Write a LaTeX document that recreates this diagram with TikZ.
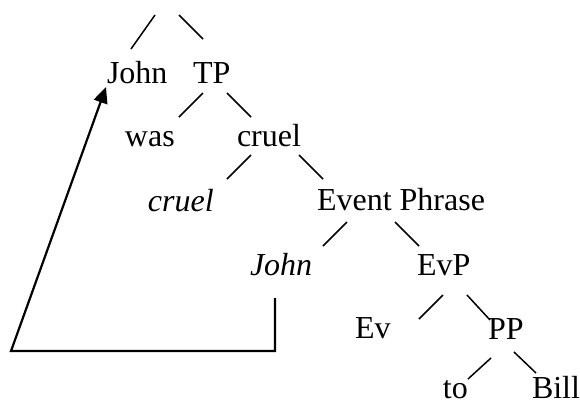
\documentclass[tikz,border=0pt]{standalone}
\usepackage{fontspec}
\setmainfont{Liberation Serif}
\usetikzlibrary{arrows.meta}
\begin{document}
\begin{tikzpicture}[x=0.5pt,y=-0.5pt,
  lbl/.style={anchor=base west,inner sep=0pt,outer sep=0pt,
              font=\fontsize{16}{19}\selectfont},
  branch/.style={line width=0.75pt},
  move/.style={line width=1.1pt,line join=miter},
  movetip/.style={-{Triangle[length=8pt,width=7pt]}}]
\useasboundingbox (0,0) rectangle (580,403);

% words of the tree
\node[lbl] (john)  at (107,83)  {John};
\node[lbl] (tp)    at (193,83)  {TP};
\node[lbl] (was)   at (125,146) {was};
\node[lbl] (cruel) at (237,146) {cruel};
\node[lbl] (cruelT) at (148,211) {\itshape cruel};
\node[lbl] (evph)  at (317,210) {Event Phrase};
\node[lbl] (johnT) at (250,275) {\itshape John};
\node[lbl] (evp)   at (417,275) {EvP};
\node[lbl] (ev)    at (355,338) {Ev};
\node[lbl] (pp)    at (488,339) {PP};
\node[lbl] (to)    at (443,398) {to};
\node[lbl] (bill)  at (532,398) {Bill};

% branch end points
\coordinate (r1a) at (155,15);  \coordinate (r1b) at (131,49);
\coordinate (r2a) at (179,15);  \coordinate (r2b) at (203,39);
\coordinate (t1a) at (203,93);  \coordinate (t1b) at (179,117);
\coordinate (t2a) at (227,93);  \coordinate (t2b) at (251,117);
\coordinate (c1a) at (251,155); \coordinate (c1b) at (227,179);
\coordinate (c2a) at (299,155); \coordinate (c2b) at (323,179);
\coordinate (e1a) at (347,222); \coordinate (e1b) at (323,246);
\coordinate (e2a) at (395,222); \coordinate (e2b) at (419,246);
\coordinate (v1a) at (443,295); \coordinate (v1b) at (419,319);
\coordinate (v2a) at (467,295); \coordinate (v2b) at (490,320);
\coordinate (p1a) at (491,358); \coordinate (p1b) at (468,379);
\coordinate (p2a) at (514,352); \coordinate (p2b) at (536,373);

\draw[branch] (r1a) -- (r1b);
\draw[branch] (r2a) -- (r2b);
\draw[branch] (t1a) -- (t1b);
\draw[branch] (t2a) -- (t2b);
\draw[branch] (c1a) -- (c1b);
\draw[branch] (c2a) -- (c2b);
\draw[branch] (e1a) -- (e1b);
\draw[branch] (e2a) -- (e2b);
\draw[branch] (v1a) -- (v1b);
\draw[branch] (v2a) -- (v2b);
\draw[branch] (p1a) -- (p1b);
\draw[branch] (p2a) -- (p2b);

% movement of John from its trace
\coordinate (trTop)  at (275,298);
\coordinate (trBot)  at (275,351);
\coordinate (corner) at (11,351);
\coordinate (land)   at (106,87);
\draw[move,movetip] (trTop) -- (trBot) -- (corner) -- (land);
\end{tikzpicture}
\end{document}
